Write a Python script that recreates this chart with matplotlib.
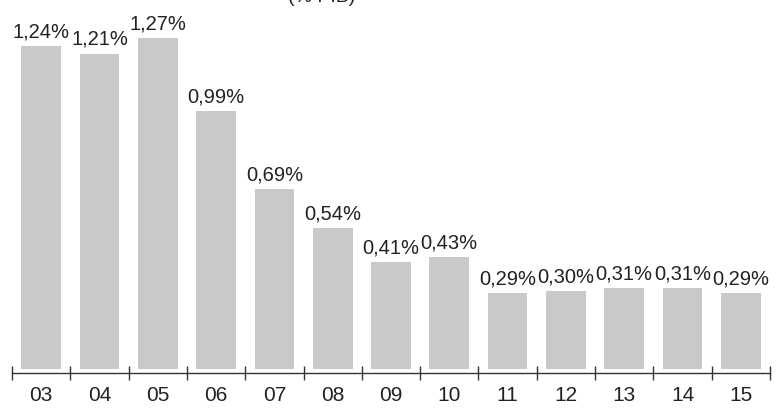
import matplotlib
matplotlib.use("Agg")
import matplotlib.pyplot as plt

plt.rcParams['font.family'] = ['Liberation Sans', 'DejaVu Sans']

years = ["03", "04", "05", "06", "07", "08", "09", "10", "11", "12", "13", "14", "15"]
values = [1.24, 1.21, 1.27, 0.99, 0.69, 0.54, 0.41, 0.43, 0.29, 0.30, 0.31, 0.31, 0.29]
title = "(% PIB)"

fig = plt.figure(figsize=(7.78, 4.10), dpi=100)
ax = fig.add_axes([12 / 778, 36 / 410, 758 / 778, 369 / 410])

x = list(range(len(years)))
ax.bar(x, values, width=0.68, color="#c9c9c9", edgecolor="none")

for xi, v in zip(x, values):
    label = f"{v:.2f}".replace(".", ",") + "%"
    ax.annotate(label, (xi, v), xytext=(0, 4), textcoords="offset points",
                ha="center", va="bottom", fontsize=14.5, color="#222222")

ax.set_xlim(-0.5, len(years) - 0.5)
ax.set_ylim(-0.015, 1.4)

for s in ("left", "right", "top"):
    ax.spines[s].set_visible(False)
ax.spines["bottom"].set_color("#333333")
ax.spines["bottom"].set_linewidth(1.0)
ax.set_yticks([])

# category labels centred on bars, tick marks on the boundaries
ax.set_xticks(x)
ax.set_xticklabels(years, fontsize=15, color="#222222")
ax.tick_params(axis="x", which="major", length=0, pad=9)
ax.set_xticks([i - 0.5 for i in range(len(years) + 1)], minor=True)
ax.tick_params(axis="x", which="minor", direction="inout", length=10,
               width=1.0, color="#333333")

fig.text(322 / 778, 1 - 2 / 410, title, ha="center", va="baseline",
         fontsize=14, color="#222222")

fig.savefig("out.png", dpi=100)
